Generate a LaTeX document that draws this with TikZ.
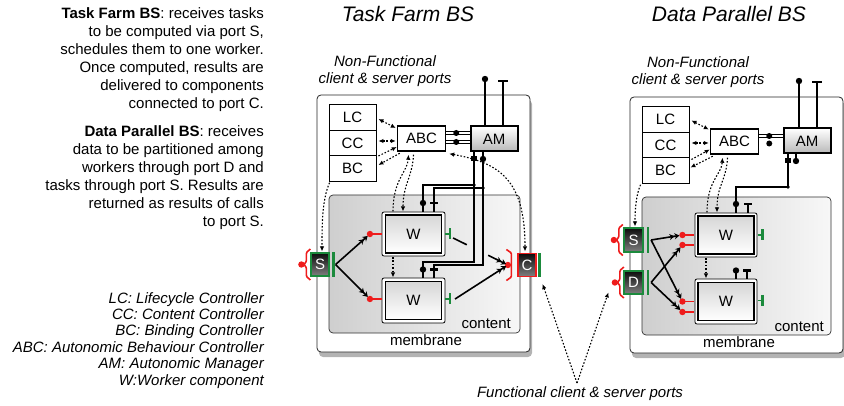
\documentclass[tikz,border=0pt]{standalone}
\usepackage{fontspec}
\setmainfont{Liberation Sans}
\usetikzlibrary{arrows.meta,shadows,calc}
\newcommand\myfs{\fontsize{15}{18}\selectfont}
\newcommand\mylegfs{\fontsize{15}{16.4}\selectfont\itshape}
\definecolor{pred}{HTML}{EE1C1C}
\definecolor{pgreen}{HTML}{1B8A3C}
\tikzset{
  rport/.pic={\draw[pred,line width=1.5pt] (0,0) -- (12,0); \fill[pred] (0,0) circle (3.2);},
  gport/.pic={\draw[pgreen,line width=1.5pt] (0,0) -- (5,0); \draw[pgreen,line width=2.4pt] (5,-5.5) -- (5,5.5);},
  topdot/.pic={\draw[line width=1.3pt] (0,0) -- (0,9); \fill (0,0) circle (3.2);},
  topT/.pic={\draw[line width=1.3pt] (0,0) -- (0,9); \draw[line width=2.2pt] (-4,0) -- (4,0);},
  sbr/.pic={\draw[pred,line width=1.6pt,rounded corners=1pt] (4,-15.5) -- (0,-12) -- (0,-3) -- (-2.5,0) -- (0,3) -- (0,12) -- (4,15.5);
            \fill[pred] (-5,0) circle (3.2);},
  cbr/.pic={\draw[pred,line width=1.6pt,rounded corners=1pt] (-5,-15.5) -- (0,-12) -- (0,12) -- (-5,15.5);
            \fill[pred] (-3.5,0) circle (3.2);},
}
\begin{document}
\begin{tikzpicture}[x=1pt,y=-1pt,
  every node/.style={font=\myfs, inner sep=0pt},
  membr/.style={draw=black!85, line width=0.8pt, fill=white, rounded corners=4pt,
     drop shadow={opacity=0.6, shadow xshift=2pt, shadow yshift=-5pt}},
  contentbox/.style={draw=black!80, line width=0.7pt, rounded corners=4pt, left color=black!19, right color=black!3},
  ctrl/.style={draw, fill=white, line width=0.9pt, minimum width=47pt, minimum height=25.5pt},
  abcbox/.style={draw, fill=white, line width=1.5pt, minimum width=48pt, minimum height=25pt},
  ambox/.style={draw, line width=2pt, minimum width=47pt, minimum height=25pt, top color=white, bottom color=black!28},
  wbox/.style={draw, line width=1.1pt, minimum width=56pt, minimum height=38pt, top color=black!16, bottom color=white},
  wframe/.style={draw, line width=0.8pt, fill=white, rounded corners=2pt},
  fport/.style={line width=1.2pt, minimum width=18pt, minimum height=23pt, top color=black!95, bottom color=black!50, text=white},
  gbar/.style={draw=pgreen, line width=2.4pt},
  flow/.style={line width=1.6pt, -{Stealth[length=5pt,width=6pt]Stealth[length=5pt,width=6pt]}},
  dots/.style={line width=1.1pt, dash pattern=on 1.6pt off 1.8pt},
  dar/.style={dots, -{Latex[length=5pt,width=4.5pt]}},
  ddar/.style={dots, {Latex[length=5pt,width=4.5pt]}-{Latex[length=5pt,width=4.5pt]}},
  nfl/.style={line width=1.2pt},
  dl/.style={line width=0.7pt, double=white, double distance=2.2pt},
  title/.style={font=\fontsize{21}{24}\selectfont\itshape},
  nflab/.style={font=\fontsize{15}{17}\selectfont\itshape, align=center},
]
\useasboundingbox (0,0) rectangle (844,406);

% ---------------- descriptions ----------------
\node[anchor=north east, align=right] (desc1) at (264,7) {\textbf{Task Farm BS}: receives tasks\\to be computed via port S,\\schedules them to one worker.\\Once computed, results are\\delivered to components\\connected to port C.};
\node[anchor=north east, align=right] (desc2) at (264,125) {\textbf{Data Parallel BS}: receives\\data to be partitioned among\\workers through port D and\\tasks through port S. Results are\\returned as results of calls\\to port S.};
\node[anchor=north east, align=right, font=\mylegfs] (legend) at (264,292) {LC: Lifecycle Controller\\CC: Content Controller\\BC: Binding Controller\\ABC: Autonomic Behaviour Controller\\AM: Autonomic Manager\\W:Worker component};

\node[title] (t1) at (408,14) {Task Farm BS};
\node[title] (t2) at (729,14) {Data Parallel BS};
\node[nflab] (nf1) at (385,71) {Non-Functional\\client \& server ports};
\node[nflab] (nf2) at (698,72) {Non-Functional\\client \& server ports};

% ================= TASK FARM =================
\node[membr, minimum width=213pt, minimum height=257pt] (tfmem) at (423.5,223.5) {};
\node[contentbox, minimum width=191pt, minimum height=138pt] (tfcont) at (424.5,264) {};
\node[anchor=base east] (tfcl) at (511,329) {content};
\node[anchor=base] (tfml) at (426,345) {membrane};

\node[ctrl] (tfLC) at (352.5,117.5) {LC};
\node[ctrl] (tfCC) at (352.5,143) {CC};
\node[ctrl] (tfBC) at (352.5,168.5) {BC};
\node[abcbox] (tfABC) at (421.5,138.5) {ABC};
\node[ambox] (tfAM) at (494,139) {AM};

% AM external NF ports
\coordinate (tfamo1) at (485,79);
\coordinate (tfamo2) at (503,81);
\draw[line width=1.4pt] (tfamo1) -- (tfamo1 |- tfAM.north);
\fill (tfamo1) circle (3.2);
\draw[line width=1.4pt] (tfamo2) -- (tfamo2 |- tfAM.north);
\draw[line width=2.2pt] ($(tfamo2)+(-5,0)$) -- ($(tfamo2)+(5,0)$);

% ABC - AM
\coordinate (tfab1) at ($(tfABC.east)+(0,-5.5)$);
\coordinate (tfab2) at ($(tfABC.east)+(0,3.5)$);
\draw[dl] (tfab1) -- (tfab1 -| tfAM.west);
\draw[dl] (tfab2) -- (tfab2 -| tfAM.west);
\fill ($(tfab1)+(10,0)$) circle (3);
\fill ($(tfab2)+(10,0)$) circle (3);

% workers
\coordinate (tfw1c) at (413.5,234);
\coordinate (tfw2c) at (413.5,300.5);
\draw[wframe] ($(tfw1c)+(-31.5,-22)$) rectangle ($(tfw1c)+(31.5,22)$);
\node[wbox] (tfW1) at (tfw1c) {W};
\draw[wframe] ($(tfw2c)+(-31.5,-22.5)$) rectangle ($(tfw2c)+(31.5,22.5)$);
\node[wbox] (tfW2) at (tfw2c) {W};

\coordinate (tfw1in) at ($(tfW1.west)+(-15,0)$);
\coordinate (tfw2in) at ($(tfW2.west)+(-15,-1.5)$);
\pic at (tfw1in) {rport};
\pic at (tfw2in) {rport};
\pic at ($(tfW1.east)+(3,0)$) {gport};
\pic at ($(tfW2.east)+(3,-1.5)$) {gport};

% W top NF ports
\coordinate (tfw1d) at (423,203);
\coordinate (tfw1t) at (434,203);
\coordinate (tfw2d) at (423,269.5);
\coordinate (tfw2t) at (434,269.5);
\pic at (tfw1d) {topdot};
\pic at (tfw1t) {topT};
\pic at (tfw2d) {topdot};
\pic at (tfw2t) {topT};

% AM bottom NF ports
\coordinate (tfam1) at (474,159);
\coordinate (tfam2) at (483,159);
\draw[nfl] (tfam1 |- tfAM.south) -- (tfam1);
\draw[nfl] (tfam2 |- tfAM.south) -- (tfam2);
\fill ($(tfam1)+(-2.8,-3)$) rectangle ($(tfam1)+(2.8,2)$);
\fill (tfam2) circle (3.2);
\draw[nfl] (tfam1) |- ($(tfw1d)+(0,-18)$) -- (tfw1d);
\draw[nfl] (tfam2) |- ($(tfw1t)+(0,-15)$) -- (tfw1t);
\draw[nfl] (tfam1) |- ($(tfw2d)+(0,-7.5)$) -- (tfw2d);
\draw[nfl] (tfam2) |- ($(tfw2t)+(0,-4.5)$) -- (tfw2t);
\fill (474,185) circle (1.8);
\fill (483,188) circle (1.8);

% functional ports
\node[fport, draw=pgreen] (tfS) at (320,264.5) {S};
\pic at ($(tfS.west)+(-4,0)$) {sbr};
\draw[gbar] ($(tfS.north east)+(4,0)$) -- ($(tfS.south east)+(4,0)$);
\node[fport, draw=pred] (tfC) at (527,265) {C};
\pic at ($(tfC.west)+(-6,0)$) {cbr};
\draw[gbar] ($(tfC.north east)+(3,0)$) -- ($(tfC.south east)+(3,0)$);
\coordinate (tfSout) at ($(tfS.east)+(6,0)$);
\coordinate (tfCin) at ($(tfC.west)+(-9.5,0)$);

% functional flows
\draw[flow, shorten >=3pt] (tfSout) -- (tfw1in);
\draw[flow, shorten >=3pt] (tfSout) -- (tfw2in);
\coordinate (tfw1out) at ($(tfW1.east)+(11,4)$);
\coordinate (tfw2out) at ($(tfW2.east)+(13,-1.5)$);
\draw[line width=1.6pt] (tfw1out) -- ($(tfw1out)!0.25!(tfCin)$);
\draw[flow, shorten >=2pt] ($(tfw1out)!0.64!(tfCin)$) -- (tfCin);
\draw[flow, shorten >=2pt] (tfw2out) -- (tfCin);

% dotted NF interactions
\draw[ddar] ($(tfLC.east)+(2,1.5)$) -- ($(tfABC.west)+(-1,-10.5)$);
\draw[ddar] ($(tfCC.east)+(2,-2)$) -- ($(tfABC.west)+(-1,2.5)$);
\draw[dar] ($(tfBC.east)+(2,-12.5)$) -- ($(tfABC.west)+(0,8.5)$);
\draw[dar] ($(tfABC.south west)+(3,1.5)$) -- ($(tfBC.east)+(2,-3.5)$);
\draw[dar] ($(tfW1.north)+(-20.5,-3)$) .. controls ($(tfW1.north)+(-20.5,-35)$) and ($(tfABC.south)+(-14,20)$) .. ($(tfABC.south)+(-13,3)$);
\draw[dar] ($(tfABC.south)+(-8,3)$) .. controls ($(tfABC.south)+(-9,25)$) and ($(tfW1.north)+(-10.5,-30)$) .. ($(tfW1.north)+(-10.5,-3)$);
\draw[dar] ($(tfW1.south)+(-20.5,3.5)$) -- ($(tfW2.north)+(-20.5,-3.5)$);
\draw[dar] ($(tfBC.south west)+(1,1)$) .. controls (322,200) and (322,225) .. ($(tfS.north)+(2,-1)$);
\draw[ddar] ($(tfABC.south east)+(3,2)$) .. controls (500,163) and (525,180) .. ($(tfC.north)+(-2,-1.5)$);

% ================= DATA PARALLEL =================
\node[membr, minimum width=213pt, minimum height=256pt] (dpmem) at (736.5,225) {};
\node[contentbox, minimum width=189pt, minimum height=138pt] (dpcont) at (736.5,266) {};
\node[anchor=base east] (dpcl) at (824,331) {content};
\node[anchor=base] (dpml) at (739,347) {membrane};

\node[ctrl] (dpLC) at (665.5,119.5) {LC};
\node[ctrl] (dpCC) at (665.5,145) {CC};
\node[ctrl] (dpBC) at (665.5,170.5) {BC};
\node[abcbox] (dpABC) at (734.5,141.5) {ABC};
\node[ambox] (dpAM) at (807,141) {AM};

\coordinate (dpamo1) at (799,81);
\coordinate (dpamo2) at (817,82);
\draw[line width=1.4pt] (dpamo1) -- (dpamo1 |- dpAM.north);
\fill (dpamo1) circle (3.2);
\draw[line width=1.4pt] (dpamo2) -- (dpamo2 |- dpAM.north);
\draw[line width=2.2pt] ($(dpamo2)+(-5,0)$) -- ($(dpamo2)+(5,0)$);

\coordinate (dpab1) at ($(dpABC.east)+(0,-5.5)$);
\coordinate (dpab2) at ($(dpABC.east)+(0,2)$);
\draw[dl] (dpab1) -- (dpab1 -| dpAM.west);
\draw[dl] (dpab2) -- (dpab2 -| dpAM.west);
\fill ($(dpab1)+(10,0)$) circle (3);
\fill ($(dpab2)+(10,0)$) circle (3);

\coordinate (dpw1c) at (726,235);
\coordinate (dpw2c) at (726,301.5);
\draw[wframe] ($(dpw1c)+(-31,-22)$) rectangle ($(dpw1c)+(31,22)$);
\node[wbox] (dpW1) at (dpw1c) {W};
\draw[wframe] ($(dpw2c)+(-31,-22.5)$) rectangle ($(dpw2c)+(31,22.5)$);
\node[wbox] (dpW2) at (dpw2c) {W};

\coordinate (dpw1a) at ($(dpW1.west)+(-15,0)$);
\coordinate (dpw1b) at ($(dpW1.west)+(-15,10)$);
\coordinate (dpw2a) at ($(dpW2.west)+(-15,0)$);
\coordinate (dpw2b) at ($(dpW2.west)+(-15,10.5)$);
\pic at (dpw1a) {rport};
\pic at (dpw1b) {rport};
\pic at (dpw2a) {rport};
\pic at (dpw2b) {rport};
\pic at ($(dpW1.east)+(3,0)$) {gport};
\pic at ($(dpW2.east)+(3,-1)$) {gport};

\coordinate (dpw1d) at (736,204);
\coordinate (dpw1t) at (748,204);
\coordinate (dpw2d) at (736,270.5);
\coordinate (dpw2t) at (747,270.5);
\pic at (dpw1d) {topdot};
\pic at (dpw1t) {topT};
\pic at (dpw2d) {topdot};
\pic at (dpw2t) {topT};

\coordinate (dpam1) at (788,161);
\coordinate (dpam2) at (796,161);
\draw[nfl] (dpam1 |- dpAM.south) -- (dpam1);
\draw[nfl] (dpam2 |- dpAM.south) -- (dpam2);
\fill ($(dpam1)+(-2.8,-3)$) rectangle ($(dpam1)+(2.8,2)$);
\fill (dpam2) circle (3.2);
\draw[nfl] (dpam1) |- ($(dpw1d)+(0,-17)$) -- (dpw1d);
\fill (788,187) circle (1.8);

\node[fport, draw=pgreen, minimum width=19pt, minimum height=24pt] (dpS) at (633.5,240) {S};
\pic at ($(dpS.west)+(-4.5,0)$) {sbr};
\draw[gbar] ($(dpS.north east)+(4.5,0)$) -- ($(dpS.south east)+(4.5,0)$);
\node[fport, draw=pgreen, minimum width=19pt, minimum height=23pt] (dpD) at (633.5,282.5) {D};
\pic at ($(dpD.west)+(-3.5,0)$) {sbr};
\draw[gbar] ($(dpD.north east)+(4.5,0)$) -- ($(dpD.south east)+(4.5,0)$);
\coordinate (dpSout) at ($(dpS.east)+(7.5,0)$);
\coordinate (dpDout) at ($(dpD.east)+(7.5,0)$);

\draw[flow, shorten >=3pt] (dpSout) -- (dpw1a);
\draw[flow, shorten >=3pt] (dpSout) -- (dpw2a);
\draw[flow, shorten >=3pt] (dpDout) -- (dpw1b);
\draw[flow, shorten >=3pt] (dpDout) -- (dpw2b);

\draw[ddar] ($(dpLC.east)+(2,1)$) -- ($(dpABC.west)+(-1,-12)$);
\draw[ddar] ($(dpCC.east)+(2,-2)$) -- ($(dpABC.west)+(-1,1.5)$);
\draw[dar] ($(dpBC.east)+(2,-11)$) -- ($(dpABC.west)+(0,8)$);
\draw[dar] ($(dpABC.south west)+(3,1.5)$) -- ($(dpBC.east)+(1,-3)$);
\draw[dar] ($(dpW1.north)+(-19,-3)$) .. controls ($(dpW1.north)+(-19,-35)$) and ($(dpABC.south)+(-13,20)$) .. ($(dpABC.south)+(-12,3)$);
\draw[dar] ($(dpABC.south)+(-7,3)$) .. controls ($(dpABC.south)+(-8,25)$) and ($(dpW1.north)+(-9,-30)$) .. ($(dpW1.north)+(-9,-3)$);
\draw[dar] ($(dpW1.south)+(-20,3.5)$) -- ($(dpW2.north)+(-20,-3.5)$);
\draw[dar] ($(dpBC.south west)+(-1,1)$) .. controls (636,195) and (635,210) .. ($(dpS.north)+(1.5,-1)$);

% ================= functional ports label =================
\node[font=\myfs\itshape] (func) at (580,394) {Functional client \& server ports};
\coordinate (fsrc) at (577,383);
\draw[dar] (fsrc) -- ($(tfC.south east)+(6,7)$);
\draw[dar] (fsrc) -- ($(dpD.west)+(-15,10)$);
\end{tikzpicture}
\end{document}
